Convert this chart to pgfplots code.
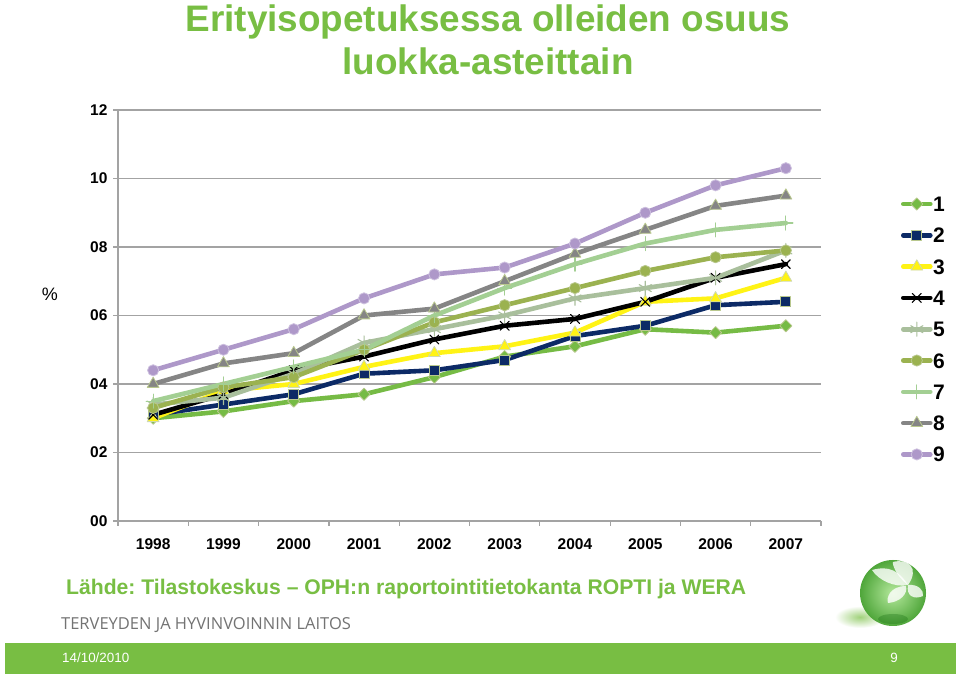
\documentclass[border=0pt]{standalone}
\usepackage{fontspec}
\setmainfont{Liberation Sans}
\newfontfamily\thlfont{Open Sans}
\usepackage{pgfplots}
\pgfplotsset{compat=1.18}
\usepackage{pgfplotstable}
\usetikzlibrary{shadings}
\definecolor{thlgreen}{HTML}{78BE43}
\definecolor{sOne}{HTML}{76BB45}
\definecolor{sTwo}{HTML}{0C2A66}
\definecolor{sThree}{HTML}{FFF315}
\definecolor{sFive}{HTML}{A9BF9C}
\definecolor{sSix}{HTML}{9BB250}
\definecolor{sSeven}{HTML}{A3CF93}
\definecolor{sEight}{HTML}{858585}
\definecolor{sNine}{HTML}{AE98C9}
\definecolor{mkedge}{HTML}{B9C88E}
\definecolor{gridgray}{HTML}{A3A3A3}
\definecolor{ballin}{HTML}{B4E89C}
\definecolor{ballout}{HTML}{4FA63A}
\pgfplotstableread{
x s1 s2 s3 s4 s5 s6 s7 s8 s9
0 3.0 3.1 3.0 3.1 3.4 3.3 3.5 4.0 4.4
1 3.2 3.4 3.8 3.7 3.6 3.9 4.0 4.6 5.0
2 3.5 3.7 4.0 4.4 4.3 4.2 4.5 4.9 5.6
3 3.7 4.3 4.5 4.8 5.2 5.0 5.0 6.0 6.5
4 4.2 4.4 4.9 5.3 5.6 5.8 6.0 6.2 7.2
5 4.8 4.7 5.1 5.7 6.0 6.3 6.8 7.0 7.4
6 5.1 5.4 5.5 5.9 6.5 6.8 7.5 7.8 8.1
7 5.6 5.7 6.4 6.4 6.8 7.3 8.1 8.5 9.0
8 5.5 6.3 6.5 7.1 7.1 7.7 8.5 9.2 9.8
9 5.7 6.4 7.1 7.5 7.9 7.9 8.7 9.5 10.3
}\datatable
\begin{document}
\frenchspacing
\begin{tikzpicture}[x=1pt,y=1pt]
\clip (0,0) rectangle (960,676);
\fill[white] (0,0) rectangle (960,676);
% footer bar
\fill[thlgreen] (5,2) rectangle (956,33);
\node[anchor=base west,inner sep=0,text=white,font=\fontsize{13.4}{16}\selectfont] at (62,13) {14/10/2010};
\node[anchor=base,inner sep=0,text=white,font=\fontsize{13.4}{16}\selectfont] at (894,13) {9};
% titles
\node[anchor=base,inner sep=0,text=thlgreen,font=\fontsize{36.9}{40}\selectfont\bfseries] at (488,644) {Erityisopetuksessa olleiden osuus};
\node[anchor=base,inner sep=0,text=thlgreen,font=\fontsize{36.9}{40}\selectfont\bfseries] at (488,601) {luokka-asteittain};
\node[anchor=base west,inner sep=0,text=thlgreen,font=\fontsize{21.15}{24}\selectfont\bfseries] at (66,81) {Lähde: Tilastokeskus -- OPH:n raportointitietokanta ROPTI ja WERA};
\node[anchor=base west,inner sep=0,text=black!55,font=\thlfont\fontsize{16.5}{18}\selectfont] at (61,46) {TERVEYDEN JA HYVINVOINNIN LAITOS};
\node[anchor=center,inner sep=0,font=\fontsize{18}{20}\selectfont] at (50,382) {\%};
% logo
\shade[inner color=thlgreen!70,outer color=white] (860,59) ellipse (25 and 11);
\shade[inner color=ballin,outer color=ballout] (893,83) circle (33);
\fill[green!35!black,opacity=.25] (893,57) ellipse (15 and 5);
\fill[white,opacity=.8] (908,91) .. controls (895,112) and (880,108) .. (872,106) .. controls (878,96) and (895,88) .. (908,91) -- cycle;
\fill[white,opacity=.8] (906,90) .. controls (890,90) and (886,78) .. (888,73) .. controls (900,74) and (908,82) .. (906,90) -- cycle;
\fill[white,opacity=.8] (908,91) .. controls (918,92) and (924,86) .. (923,80) .. controls (914,76) and (906,80) .. (908,91) -- cycle;
\fill[white,opacity=.8] (908,91) .. controls (896,100) and (892,112) .. (893,114) .. controls (908,118) and (920,108) .. (908,91) -- cycle;
\begin{axis}[
  at={(118pt,155pt)},anchor=south west,
  width=703pt,height=411pt,scale only axis,
  xmin=-0.5,xmax=9.5,ymin=0,ymax=12,
  axis lines=left,
  axis line style={-,color=gridgray,line width=1.2pt},
  clip=false,
  tick align=outside,
  ytick={0,2,4,6,8,10,12},
  yticklabels={00,02,04,06,08,10,12},
  xtick={0,1,2,3,4,5,6,7,8,9},
  xticklabels={1998,1999,2000,2001,2002,2003,2004,2005,2006,2007},
  minor xtick={-0.5,0.5,...,9.5},
  major x tick style={draw=none},
  minor x tick style={color=gridgray,line width=1.2pt},
  minor tick length=5pt,
  major tick length=5pt,
  ytick style={color=gridgray,line width=1.2pt},
  ymajorgrids,
  grid style={color=gridgray,line width=1.2pt},
  tick label style={font=\fontsize{15.5}{18}\selectfont\bfseries},
  x tick label style={yshift=-9pt},
  y tick label style={xshift=-2pt},
  /pgf/number format/assume math mode=true,
  every axis plot/.append style={line width=4.6pt,line cap=round,line join=round},
  legend image code/.code={\draw[mark repeat=2,mark phase=2,#1] plot coordinates {(0pt,0pt)(13.5pt,0pt)(27pt,0pt)};},
  legend style={at={(rel axis cs:1.1135,0.79)},anchor=north west,draw=none,fill=none,inner sep=0pt,
    font=\fontsize{21}{22}\selectfont\bfseries,row sep=16.3pt,
    nodes={inner sep=0pt,text height=15pt,text depth=0pt},column sep=0.5pt},
  legend cell align=left,
]
\addplot[color=sOne,mark=square*,mark size=4.3,mark options={solid,rotate=45,fill=sOne,draw=mkedge,line width=.8pt}] table[x=x,y=s1]{\datatable};
\addplot[color=sTwo,mark=square*,mark size=5,mark options={solid,fill=sTwo,draw=mkedge,line width=.8pt}] table[x=x,y=s2]{\datatable};
\addplot[color=sThree,mark=triangle*,mark size=6.8,mark options={solid,fill=sThree,draw=mkedge!70!white,line width=.8pt}] table[x=x,y=s3]{\datatable};
\addplot[color=black,mark=x,mark size=6.3,mark options={solid,draw=black,line width=1.1pt}] table[x=x,y=s4]{\datatable};
\addplot[color=sFive,mark=asterisk,mark size=7,mark options={solid,draw=sFive,line width=1.1pt}] table[x=x,y=s5]{\datatable};
\addplot[color=sSix,mark=*,mark size=5.6,mark options={solid,fill=sSix,draw=mkedge,line width=.8pt}] table[x=x,y=s6]{\datatable};
\addplot[color=sSeven,mark=+,mark size=7,mark options={solid,draw=sSeven,line width=1.1pt}] table[x=x,y=s7]{\datatable};
\addplot[color=sEight,mark=triangle*,mark size=6.8,mark options={solid,fill=sEight,draw=mkedge,line width=.8pt}] table[x=x,y=s8]{\datatable};
\addplot[color=sNine,mark=*,mark size=5.6,mark options={solid,fill=sNine,draw=sNine!60!white,line width=.8pt}] table[x=x,y=s9]{\datatable};
\legend{1,2,3,4,5,6,7,8,9}
\end{axis}
\end{tikzpicture}
\end{document}
